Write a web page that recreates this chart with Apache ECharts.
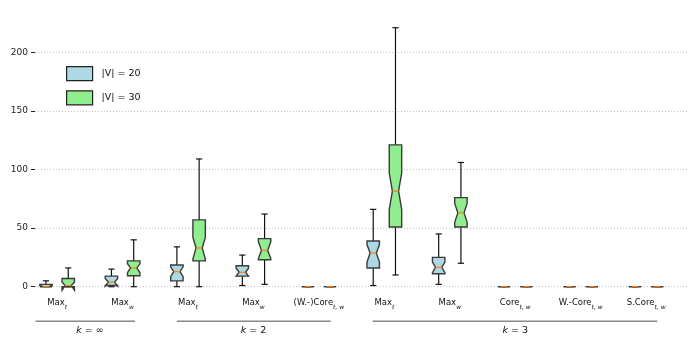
<!DOCTYPE html>
<html>
<head>
    <meta charset="UTF-8">
    <title>boxplot</title>
    <script src="https://cdn.jsdelivr.net/npm/echarts@6/dist/echarts.min.js"></script>
    <style>
        html, body { margin: 0; padding: 0; background: #fff; }
        #chart { width: 700px; height: 350px; }
    </style>
</head>
<body>
<div id="chart"></div>
<script>
// x 轴分组标签（主名 + 下标）
var categories = ['Max', 'Max', 'Max', 'Max', '(W.-)Core', 'Max', 'Max', 'Core', 'W.-Core', 'S.Core'];
var subscripts = ['t', 'w', 't', 'w', 't, w', 't', 'w', 't, w', 't, w', 't, w'];
var yTicks = [0, 50, 100, 150, 200];

// |V| = 20
var v20Min = [0, 0, 0, 1, 0, 1, 2, 0, 0, 0];
var v20Q1 = [0, 1, 5, 9, 0, 16, 11, 0, 0, 0];
var v20Med = [0, 4, 12.8, 12.3, 0, 28.8, 16.5, 0, 0, 0];
var v20Q3 = [2, 9, 18.5, 17.9, 0, 39, 25, 0, 0, 0];
var v20Max = [5, 15, 34, 27, 0, 66, 45, 0, 0, 0];
var v20NotchLo = [0, 0.5, 8.5, 9, 0, 21, 12, 0, 0, 0];
var v20NotchHi = [1, 7, 17, 15.7, 0, 36, 21, 0, 0, 0];

// |V| = 30
var v30Min = [0, 0, 0, 2, 0, 10, 20, 0, 0, 0];
var v30Q1 = [0, 9.4, 22, 23, 0, 51, 51, 0, 0, 0];
var v30Med = [1, 16, 33, 31, 0, 81.5, 63, 0, 0, 0];
var v30Q3 = [7, 22, 57, 41, 0, 121, 76, 0, 0, 0];
var v30Max = [16, 40, 109, 62, 0, 221, 106, 0, 0, 0];
var v30NotchLo = [-3, 12, 23.5, 24, 0, 66, 55, 0, 0, 0];
var v30NotchHi = [4, 19.5, 42, 38.5, 0, 97, 71, 0, 0, 0];

// k 分组
var groupNames = ['k = ∞', 'k = 2', 'k = 3'];
var groupStart = [-0.33, 1.83, 4.82];
var groupEnd = [1.19, 4.18, 9.17];
var groupCenter = [0.5, 3, 7];

var FONT = 'DejaVu Sans';
var OFFSET = 0.17, BOXW = 0.19;

function buildBoxes(offset, mn, q1, med, q3, mx, nlo, nhi) {
    var res = [];
    for (var i = 0; i < categories.length; i++) {
        res.push([i + offset, mn[i], q1[i], med[i], q3[i], mx[i], nlo[i], nhi[i]]);
    }
    return res;
}

function renderBox(params, api) {
    var x = api.value(0);
    var w = api.size([BOXW, 0])[0];
    var cx = api.coord([x, 0])[0];
    var L = cx - w / 2, R = cx + w / 2, cl = cx - w / 4, cr = cx + w / 4;
    function Y(v) { return api.coord([x, v])[1]; }
    var mn = Y(api.value(1)), q1 = Y(api.value(2)), md = Y(api.value(3)),
        q3 = Y(api.value(4)), mx = Y(api.value(5)), nlo = Y(api.value(6)), nhi = Y(api.value(7));
    var lineStyle = {stroke: '#111', lineWidth: 1.2};
    return {
        type: 'group',
        children: [
            {type: 'line', shape: {x1: cx, y1: q1, x2: cx, y2: mn}, style: lineStyle},
            {type: 'line', shape: {x1: cx, y1: q3, x2: cx, y2: mx}, style: lineStyle},
            {type: 'line', shape: {x1: cl, y1: mn, x2: cr, y2: mn}, style: lineStyle},
            {type: 'line', shape: {x1: cl, y1: mx, x2: cr, y2: mx}, style: lineStyle},
            {
                type: 'polygon',
                shape: {points: [[L, q1], [R, q1], [R, nlo], [cr, md], [R, nhi], [R, q3],
                    [L, q3], [L, nhi], [cl, md], [L, nlo]]},
                style: {fill: api.visual('color'), stroke: '#3a3a3a', lineWidth: 1.4}
            },
            {type: 'line', shape: {x1: cl, y1: md, x2: cr, y2: md}, style: {stroke: '#ff7f0e', lineWidth: 1.2}}
        ]
    };
}

var chart = echarts.init(document.getElementById('chart'));
var option = {
    animation: false,
    grid: {left: 35, right: 11, top: 14, bottom: 63.3},
    legend: {
        orient: 'vertical',
        left: 61,
        top: 61,
        itemWidth: 26,
        itemHeight: 14,
        itemGap: 9,
        textStyle: {fontFamily: FONT, fontSize: 9.5, color: '#111', padding: [0, 0, 0, 4]},
        data: [
            {name: '|V| = 20', icon: 'rect', itemStyle: {color: '#add8e6', borderColor: '#222', borderWidth: 1.2}},
            {name: '|V| = 30', icon: 'rect', itemStyle: {color: '#90ee90', borderColor: '#222', borderWidth: 1.2}}
        ]
    },
    xAxis: {
        type: 'value',
        min: -0.338,
        max: 9.655,
        axisLine: {show: false},
        axisTick: {show: false},
        splitLine: {show: false},
        axisLabel: {
            customValues: [0, 1, 2, 3, 4, 5, 6, 7, 8, 9],
            margin: 12,
            formatter: function (v) {
                var i = Math.round(v);
                return '{b|' + categories[i] + '}{s|' + subscripts[i] + '}';
            },
            rich: {
                b: {fontFamily: FONT, fontSize: 8.5, color: '#111', verticalAlign: 'top', lineHeight: 12},
                s: {fontFamily: FONT, fontSize: 6, fontStyle: 'italic', color: '#111', verticalAlign: 'bottom', lineHeight: 12, padding: [4, 0, 0, 0]}
            }
        }
    },
    yAxis: {
        type: 'value',
        min: 0,
        max: 232.7,
        interval: 50,
        axisLine: {show: false, onZero: false},
        axisTick: {show: true, length: 4, lineStyle: {color: '#222'}, customValues: yTicks},
        axisLabel: {fontFamily: FONT, fontSize: 9, color: '#222', margin: 7, customValues: yTicks},
        splitLine: {show: true, showMinLine: true, showMaxLine: true, lineStyle: {color: '#c4c4c4', type: [1, 2], width: 1}}
    },
    series: [
        {
            name: '|V| = 20',
            type: 'custom',
            itemStyle: {color: '#add8e6'},
            renderItem: renderBox,
            encode: {x: 0, y: [1, 5]},
            data: buildBoxes(-OFFSET, v20Min, v20Q1, v20Med, v20Q3, v20Max, v20NotchLo, v20NotchHi)
        },
        {
            name: '|V| = 30',
            type: 'custom',
            itemStyle: {color: '#90ee90'},
            renderItem: renderBox,
            encode: {x: 0, y: [1, 5]},
            data: buildBoxes(OFFSET, v30Min, v30Q1, v30Med, v30Q3, v30Max, v30NotchLo, v30NotchHi)
        },
        {
            name: 'groups',
            type: 'custom',
            silent: true,
            renderItem: function (params, api) {
                var i = params.dataIndex;
                var p1 = api.coord([api.value(0), 0]);
                var p2 = api.coord([api.value(1), 0]);
                var pc = api.coord([api.value(2), 0]);
                var name = groupNames[i];
                return {
                    type: 'group',
                    children: [
                        {type: 'line', shape: {x1: p1[0], y1: p1[1] + 34.6, x2: p2[0], y2: p1[1] + 34.6},
                            style: {stroke: '#888', lineWidth: 1.4}},
                        {type: 'text', x: pc[0], y: pc[1] + 43.5, style: {
                            text: '{i|k}{n|' + name.slice(1) + '}',
                            align: 'center', verticalAlign: 'middle',
                            rich: {
                                i: {fontFamily: FONT, fontSize: 9.5, fontStyle: 'italic', fill: '#111'},
                                n: {fontFamily: FONT, fontSize: 9.5, fill: '#111'}
                            }
                        }}
                    ]
                };
            },
            data: groupStart.map(function (s, i) { return [s, groupEnd[i], groupCenter[i]]; })
        }
    ]
};
chart.setOption(option);
</script>
</body>
</html>
